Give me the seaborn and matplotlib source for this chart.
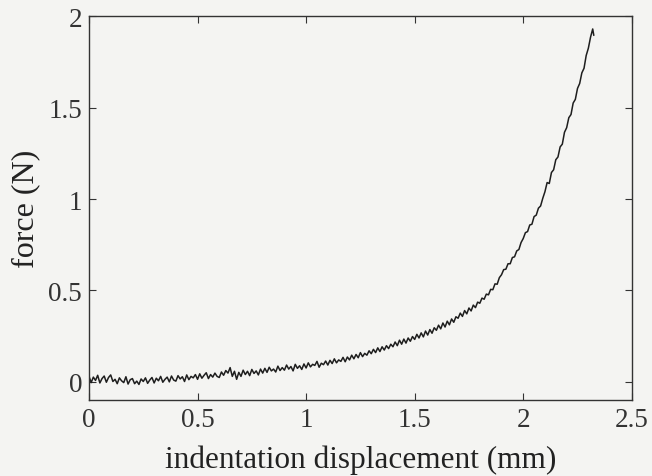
import matplotlib
matplotlib.use("Agg")
import matplotlib.pyplot as plt
import seaborn as sns
import pandas as pd

# displacement samples (mm), every 0.01 mm
displacement = [
    0.00, 0.01, 0.02, 0.03, 0.04, 0.05, 0.06, 0.07, 0.08, 0.09,
    0.10, 0.11, 0.12, 0.13, 0.14, 0.15, 0.16, 0.17, 0.18, 0.19,
    0.20, 0.21, 0.22, 0.23, 0.24, 0.25, 0.26, 0.27, 0.28, 0.29,
    0.30, 0.31, 0.32, 0.33, 0.34, 0.35, 0.36, 0.37, 0.38, 0.39,
    0.40, 0.41, 0.42, 0.43, 0.44, 0.45, 0.46, 0.47, 0.48, 0.49,
    0.50, 0.51, 0.52, 0.53, 0.54, 0.55, 0.56, 0.57, 0.58, 0.59,
    0.60, 0.61, 0.62, 0.63, 0.64, 0.65, 0.66, 0.67, 0.68, 0.69,
    0.70, 0.71, 0.72, 0.73, 0.74, 0.75, 0.76, 0.77, 0.78, 0.79,
    0.80, 0.81, 0.82, 0.83, 0.84, 0.85, 0.86, 0.87, 0.88, 0.89,
    0.90, 0.91, 0.92, 0.93, 0.94, 0.95, 0.96, 0.97, 0.98, 0.99,
    1.00, 1.01, 1.02, 1.03, 1.04, 1.05, 1.06, 1.07, 1.08, 1.09,
    1.10, 1.11, 1.12, 1.13, 1.14, 1.15, 1.16, 1.17, 1.18, 1.19,
    1.20, 1.21, 1.22, 1.23, 1.24, 1.25, 1.26, 1.27, 1.28, 1.29,
    1.30, 1.31, 1.32, 1.33, 1.34, 1.35, 1.36, 1.37, 1.38, 1.39,
    1.40, 1.41, 1.42, 1.43, 1.44, 1.45, 1.46, 1.47, 1.48, 1.49,
    1.50, 1.51, 1.52, 1.53, 1.54, 1.55, 1.56, 1.57, 1.58, 1.59,
    1.60, 1.61, 1.62, 1.63, 1.64, 1.65, 1.66, 1.67, 1.68, 1.69,
    1.70, 1.71, 1.72, 1.73, 1.74, 1.75, 1.76, 1.77, 1.78, 1.79,
    1.80, 1.81, 1.82, 1.83, 1.84, 1.85, 1.86, 1.87, 1.88, 1.89,
    1.90, 1.91, 1.92, 1.93, 1.94, 1.95, 1.96, 1.97, 1.98, 1.99,
    2.00, 2.01, 2.02, 2.03, 2.04, 2.05, 2.06, 2.07, 2.08, 2.09,
    2.10, 2.11, 2.12, 2.13, 2.14, 2.15, 2.16, 2.17, 2.18, 2.19,
    2.20, 2.21, 2.22, 2.23, 2.24, 2.25, 2.26, 2.27, 2.28, 2.29,
    2.30, 2.31, 2.32, 2.325,
]

# measured force (N)
force = [
    0.030, -0.004, 0.026, 0.008, 0.036, -0.006, 0.018, 0.032, -0.002, 0.024,
    0.038, 0.002, 0.014, -0.010, 0.022, 0.006, -0.004, 0.028, -0.012, 0.012,
    0.018, -0.010, 0.004, -0.014, 0.016, 0.002, 0.022, -0.008, 0.010, 0.024,
    -0.006, 0.020, 0.006, 0.030, -0.002, 0.014, 0.026, 0.000, 0.032, 0.010,
    0.004, 0.034, 0.016, 0.028, 0.002, 0.038, 0.012, 0.030, 0.022, 0.040,
    0.014, 0.044, 0.020, 0.036, 0.050, 0.018, 0.040, 0.026, 0.048, 0.030,
    0.024, 0.054, 0.036, 0.062, 0.048, 0.078, 0.030, 0.058, 0.014, 0.052,
    0.030, 0.064, 0.040, 0.058, 0.034, 0.068, 0.046, 0.060, 0.038, 0.070,
    0.048, 0.074, 0.052, 0.080, 0.060, 0.070, 0.054, 0.086, 0.062, 0.078,
    0.064, 0.092, 0.070, 0.084, 0.060, 0.096, 0.074, 0.088, 0.068, 0.098,
    0.076, 0.104, 0.082, 0.096, 0.090, 0.112, 0.080, 0.102, 0.094, 0.114,
    0.092, 0.118, 0.100, 0.126, 0.104, 0.120, 0.112, 0.134, 0.110, 0.136,
    0.120, 0.146, 0.126, 0.150, 0.132, 0.160, 0.138, 0.156, 0.146, 0.170,
    0.154, 0.178, 0.160, 0.186, 0.166, 0.192, 0.174, 0.198, 0.182, 0.206,
    0.192, 0.218, 0.198, 0.228, 0.206, 0.234, 0.212, 0.240, 0.222, 0.248,
    0.232, 0.260, 0.240, 0.268, 0.246, 0.278, 0.256, 0.286, 0.266, 0.296,
    0.282, 0.310, 0.290, 0.322, 0.300, 0.332, 0.312, 0.344, 0.326, 0.356,
    0.348, 0.376, 0.358, 0.390, 0.372, 0.404, 0.388, 0.420, 0.406, 0.436,
    0.430, 0.458, 0.452, 0.480, 0.476, 0.506, 0.504, 0.536, 0.534, 0.570,
    0.586, 0.614, 0.616, 0.646, 0.646, 0.680, 0.684, 0.716, 0.724, 0.762,
    0.784, 0.816, 0.822, 0.858, 0.862, 0.904, 0.912, 0.950, 0.962, 1.004,
    1.040, 1.090, 1.085, 1.145, 1.160, 1.215, 1.230, 1.285, 1.300, 1.365,
    1.390, 1.445, 1.462, 1.525, 1.545, 1.605, 1.632, 1.690, 1.715, 1.785,
    1.825, 1.885, 1.930, 1.895,
]

xticks = [0, 0.5, 1, 1.5, 2, 2.5]
xtickLabels = ["0", "0.5", "1", "1.5", "2", "2.5"]
yticks = [0, 0.5, 1, 1.5, 2]
ytickLabels = ["0", "0.5", "1", "1.5", "2"]

df = pd.DataFrame({"displacement": displacement, "force": force})

sns.set_style("ticks")
plt.rcParams["font.family"] = ["Liberation Serif", "DejaVu Serif"]

paper = "#f4f4f2"
fig = plt.figure(figsize=(6.52, 4.77), dpi=100, facecolor=paper)
ax = fig.add_axes([0.1365, 0.159, 0.8325, 0.805])
ax.set_facecolor(paper)

sns.lineplot(data=df, x="displacement", y="force", sort=False,
             color="#1e1e1e", linewidth=1.1, ax=ax)

ax.set_xlim(0, 2.5)
ax.set_ylim(-0.1, 2)
ax.set_xticks(xticks)
ax.set_xticklabels(xtickLabels)
ax.set_yticks(yticks)
ax.set_yticklabels(ytickLabels)
ax.tick_params(direction="in", top=True, right=True, length=5,
               width=0.8, labelsize=19.5, colors="#333333", pad=5)
for side in ax.spines.values():
    side.set_visible(True)
    side.set_color("#333333")
    side.set_linewidth(1.0)

ax.set_xlabel("indentation displacement (mm)", fontsize=22.5, color="#222222", labelpad=9)
ax.set_ylabel("force (N)", fontsize=23, color="#222222", labelpad=6)

fig.savefig("out.png", dpi=100, facecolor=paper)
